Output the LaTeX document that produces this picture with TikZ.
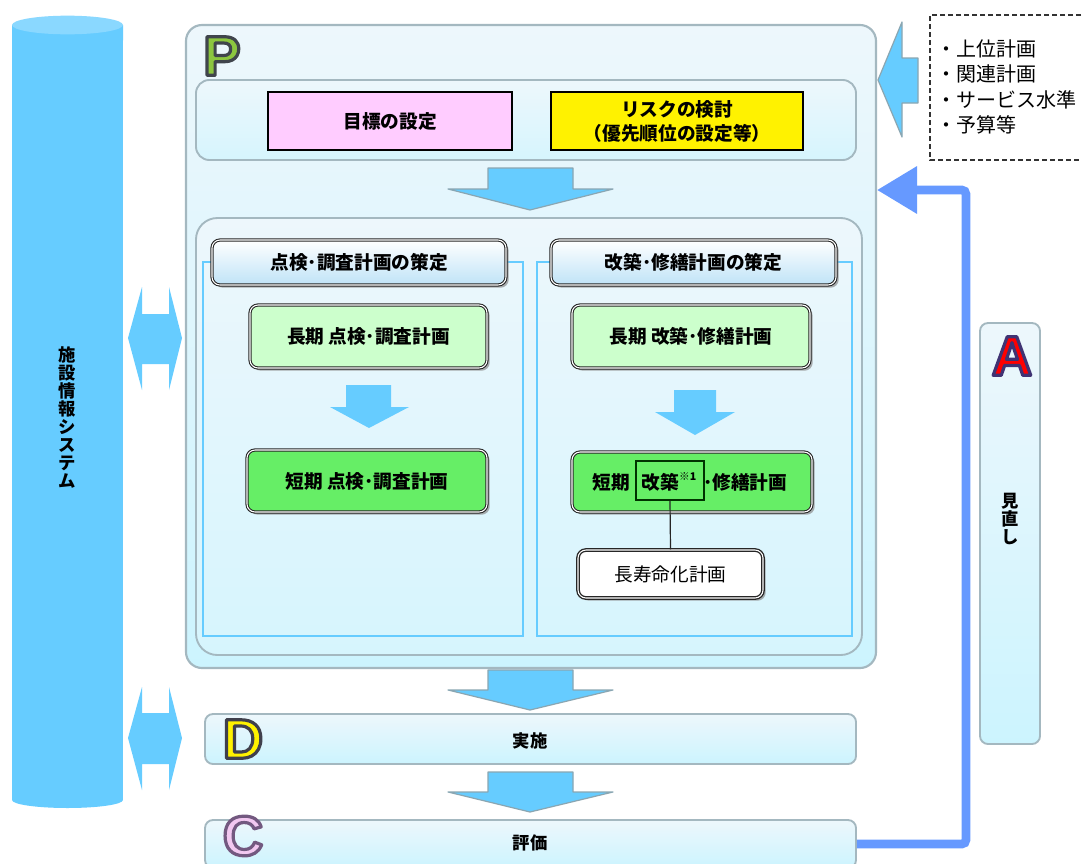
\documentclass[tikz,border=0pt]{standalone}
\usepackage{fontspec}
\setmainfont{Liberation Sans}
\newfontfamily\jp{Noto Sans CJK JP}
\usetikzlibrary{shadows,fit,arrows.meta,calc}
\definecolor{cylblue}{HTML}{66CCFF}
\definecolor{cyltop}{HTML}{8AD8FF}
\definecolor{arrblue}{HTML}{66CCFF}
\definecolor{arrline}{HTML}{8AA6B2}
\definecolor{fbblue}{HTML}{6699FF}
\definecolor{boxline}{HTML}{A4B8C0}
\definecolor{boxtop}{HTML}{EDF7FC}
\definecolor{boxbot}{HTML}{CCF4FE}
\definecolor{hdrbot}{HTML}{BFE3F7}
\definecolor{lgreen}{HTML}{CCFFCC}
\definecolor{dgreen}{HTML}{66EE66}
\definecolor{pink}{HTML}{FFCCFF}
\definecolor{panelline}{HTML}{66CCFF}
\definecolor{Pgreen}{HTML}{8CC63F}
\definecolor{Cpink}{HTML}{F2C8F0}
\tikzset{
  jptxt/.style={font=\jp\bfseries\fontsize{14}{17}\selectfont, inner sep=0pt, align=center},
  fitbox/.style={inner sep=0pt},
  pbox/.style={fitbox, rounded corners=12pt, draw=boxline, line width=1.6pt, top color=boxtop, bottom color=boxbot},
  subbox/.style={fitbox, rounded corners=10pt, draw=boxline, line width=1.4pt, top color=boxtop, bottom color=boxbot!70!boxtop},
  bandbox/.style={fitbox, rounded corners=6pt, draw=boxline, line width=1.4pt, top color=boxtop, bottom color=boxbot},
  flatbox/.style={fitbox, draw=black, line width=0.9pt},
  dbox/.style={fitbox, rounded corners=6pt, draw=black!85, line width=0.8pt, double=white, double distance=0.8pt,
     drop shadow={shadow xshift=2pt, shadow yshift=-2pt, fill=black!45, opacity=0.7}},
  hdr/.style={dbox, top color=white, bottom color=hdrbot},
  panel/.style={draw=panelline, line width=1.1pt},
  blockarr/.style={fill=arrblue, draw=arrline, line width=0.9pt, line join=round},
  smallarr/.style={fill=arrblue},
  fb/.style={draw=fbblue, line width=6.5pt, rounded corners=3pt, -{Triangle[length=30pt,width=34pt]}},
  bigletter/.style={font=\bfseries\fontsize{42}{42}\selectfont, inner sep=0pt},
  vtext/.style={font=\jp\bfseries\fontsize{13}{13.5}\selectfont, align=center, inner sep=0pt},
}
% outlined letter: name, position, fill colour, stroke rgb, letter
\newcommand\olletter[5]{%
  \node[bigletter] (#1) at (#2) {\textcolor{#3}{\special{pdf:literal direct 2 Tr 2.4 w 1 j #4 RG}#5\special{pdf:literal direct 0 Tr}}};}
\begin{document}
\begin{tikzpicture}[x=0.75pt,y=-0.75pt]
\useasboundingbox (0,0) rectangle (1082,864);
\fill[white] (0,0) rectangle (1082,864);

% cylinder (facility information system)
\fill[cylblue] (12,25) -- (12,800) arc[start angle=180,end angle=360,x radius=41.6pt,y radius=6pt] -- (123,25) -- cycle;
\fill[cyltop] (67.5,25) ellipse [x radius=41.6pt, y radius=7pt];
\node[vtext] (sys) at (67,418) {施\\設\\情\\報\\シ\\ス\\テ\\ム};

% double arrows
\fill[arrblue] (128,338) -- (142,287) -- (142,314) -- (169,314) -- (169,287) -- (182,338) -- (169,390) -- (169,364) -- (142,364) -- (142,390) -- cycle;
\fill[arrblue] (128,738) -- (142,687) -- (142,713) -- (169,713) -- (169,687) -- (182,738) -- (169,790) -- (169,764) -- (142,764) -- (142,790) -- cycle;

% P box
\node[pbox, fit={(186,25)(876,668)}] (P) {};
\olletter{letP}{222,56}{Pgreen}{0.25 0.27 0.3}{P}
\node[subbox, fit={(196,80)(856,160)}] (top) {};
\node[flatbox, fill=pink, fit={(268,92)(512,150)}] (goal) {};
\node[jptxt] (goalt) at (goal.center) {目標の設定};
\node[flatbox, fill=yellow, fit={(551,92)(803,150)}] (risk) {};
\node[jptxt, font=\jp\bfseries\fontsize{14}{18}\selectfont] (riskt) at (risk.center) {リスクの検討\\（優先順位の設定等）};
\draw[blockarr] (488,168) -- (573,168) -- (573,189) -- (613,189) -- (530,210) -- (448,189) -- (488,189) -- cycle;
\node[subbox, fit={(196,218)(862,655)}, rounded corners=16pt] (plan) {};

% panels
\draw[panel] (203,262) rectangle (523,636);
\draw[panel] (537,262) rectangle (852,636);
\node[hdr, fit={(212,240)(506,285)}] (h1) {};
\node[jptxt] (h1t) at (h1.center) {点検･調査計画の策定};
\node[hdr, fit={(551,240)(836,285)}] (h2) {};
\node[jptxt] (h2t) at (h2.center) {改築･修繕計画の策定};

\node[dbox, fill=lgreen, fit={(250,305)(487,368)}] (l1) {};
\node[jptxt] (l1t) at (l1.center) {長期 点検･調査計画};
\fill[smallarr] (346,385) -- (391,385) -- (391,407) -- (409,407) -- (369,428) -- (330,407) -- (346,407) -- cycle;
\node[dbox, fill=dgreen, fit={(247,450)(487,512)}] (s1) {};
\node[jptxt] (s1t) at (s1.center) {短期 点検･調査計画};

\node[dbox, fill=lgreen, fit={(572,305)(810,368)}] (l2) {};
\node[jptxt] (l2t) at (l2.center) {長期 改築･修繕計画};
\fill[smallarr] (674,390) -- (716,390) -- (716,412) -- (735,412) -- (695,435) -- (655,412) -- (674,412) -- cycle;
\node[dbox, fill=dgreen, fit={(572,452)(812,512)}] (s2) {};
\node[jptxt] (s2a) at (611,482) {短期};
\node[draw=black!80!green, line width=0.9pt, fitbox, fit={(636,461)(704,500)}] (kai) {};
\node[jptxt] (kait) at (669,482) {改築\raisebox{0.45em}{\fontsize{8}{8}\selectfont ※1}};
\node[jptxt, anchor=west] (s2b) at (703,482) {･修繕計画};
\node[dbox, fill=white, line width=1pt, fit={(578,550)(763,598)}] (life) {};
\node[jptxt, font=\jp\fontsize{14}{17}\selectfont] (lifet) at (life.center) {長寿命化計画};
\draw[black!85, line width=0.9pt] (kai.south) -- (life.north);

% D and C
\draw[blockarr] (488,670) -- (573,670) -- (573,690) -- (613,690) -- (530,710) -- (448,690) -- (488,690) -- cycle;
\node[bandbox, fit={(205,714)(856,764)}] (D) {};
\node[jptxt, font=\jp\bfseries\fontsize{13}{15}\selectfont] (Dt) at (530,741) {実施};
\olletter{letD}{243,739}{yellow}{0.25 0.25 0.3}{D}
\draw[blockarr] (488,772) -- (573,772) -- (573,792) -- (613,792) -- (530,812) -- (448,792) -- (488,792) -- cycle;
\node[bandbox, fit={(205,820)(856,868)}] (C) {};
\node[jptxt, font=\jp\bfseries\fontsize{13}{15}\selectfont] (Ct) at (530,843) {評価};
\olletter{letC}{243,836}{Cpink}{0.45 0.35 0.5}{C}

% A box
\node[bandbox, fit={(980,323)(1040,744)}] (A) {};
\olletter{letA}{1012,356}{red}{0.25 0.2 0.45}{A}
\node[vtext] (review) at (1010,519) {見\\直\\し};

% feedback arrow
\coordinate (fbtip) at (877,190);
\draw[fb] (C.east) -- ++(109,0) |- (fbtip);

% inputs
\draw[blockarr] (878,80) -- (902,22) -- (902,58) -- (918,58) -- (918,103) -- (902,103) -- (902,137) -- cycle;
\draw[black!80, line width=0.8pt, dash pattern=on 3.5pt off 2.5pt] (1081,15) -- (930,15) -- (930,160) -- (1081,160);
\node[font=\jp\fontsize{15}{19.2}\selectfont, align=left, anchor=north west, inner sep=0pt] (inputs) at (936,39) {・上位計画\\・関連計画\\・サービス水準\\・予算等};
\end{tikzpicture}
\end{document}
